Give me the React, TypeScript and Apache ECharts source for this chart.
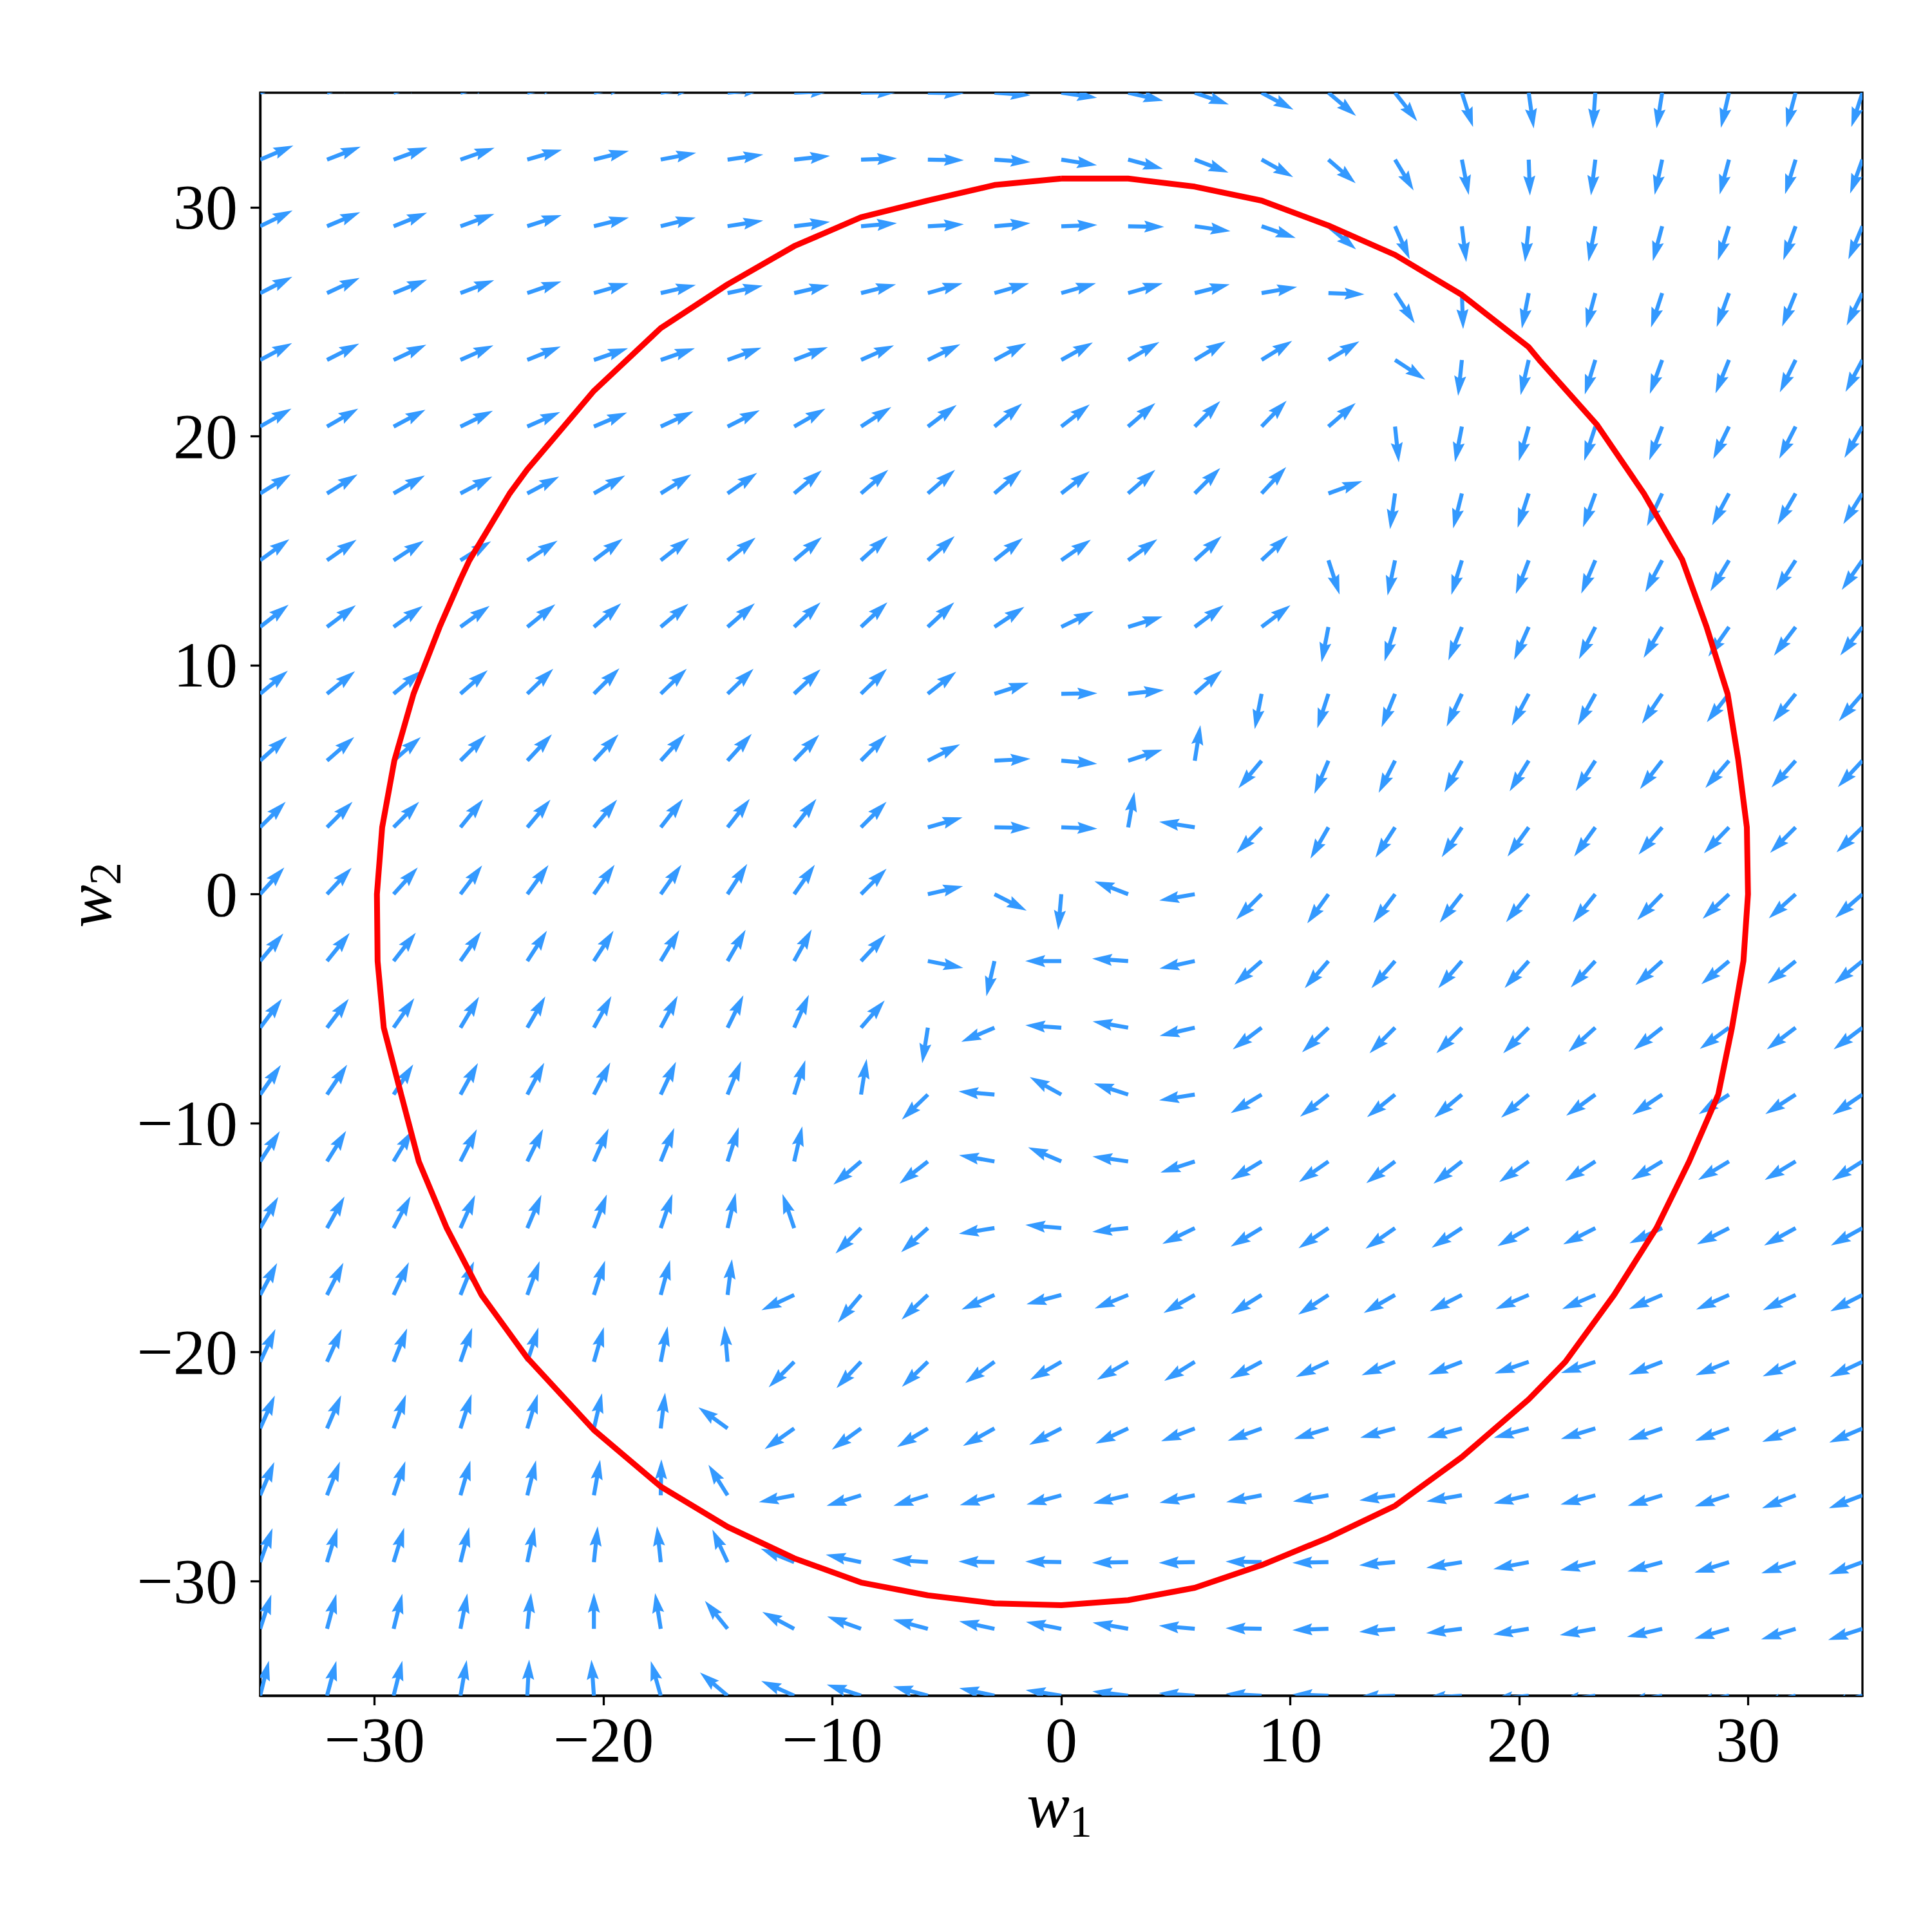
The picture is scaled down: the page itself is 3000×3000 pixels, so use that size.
import React, { useEffect, useRef } from 'react';
import * as echarts from 'echarts';

// grid positions of the quiver (x and y), left->right / bottom->top
const gridCoords = [-35, -32.08, -29.17, -26.25, -23.33, -20.42, -17.5, -14.58, -11.67, -8.75, -5.83, -2.92, 0, 2.92, 5.83, 8.75, 11.67, 14.58, 17.5, 20.42, 23.33, 26.25, 29.17, 32.08, 35];

const tickValues = [-30, -20, -10, 0, 10, 20, 30];

// arrow directions in degrees (counter-clockwise from +w1), one row per grid row, top row (w2 = 35) first
const arrowAngles = [
  [21, 19, 18, 16, 14, 12, 9, 6, 3, 1, -1, -4, -8, -13, -19, -28, -40, -52, -72, -82, -94, -99, -103, -105, -108],
  [23, 21, 20, 19, 16, 14, 11, 8, 6, 2, -1, -4, -9, -15, -21, -29, -41, -59, -79, -88, -97, -102, -105, -107, -110],
  [26, 23, 22, 20, 18, 14, 14, 9, 7, 5, 3, 5, 2, -1, -8, -19, -40, -66, -83, -96, -101, -105, -108, -110, -113],
  [27, 25, 22, 21, 19, 16, 13, 12, 13, 14, 16, 16, 16, 16, 14, 10, -2, -57, -88, -101, -105, -108, -110, -112, -116],
  [28, 27, 25, 24, 22, 19, 19, 20, 21, 24, 26, 28, 29, 30, 31, 32, 31, -33, -96, -103, -107, -110, -112, -116, -118],
  [30, 30, 28, 26, 24, 23, 25, 27, 30, 33, 37, 40, 38, 41, 45, 46, 41, -84, -101, -106, -108, -111, -116, -117, -120],
  [32, 32, 30, 28, 28, 30, 32, 35, 40, 41, 41, 41, 38, 41, 45, 47, 20, -98, -104, -108, -110, -115, -118, -120, -122],
  [36, 35, 33, 32, 33, 37, 38, 39, 40, 42, 42, 38, 35, 36, 42, 43, -72, -102, -107, -111, -113, -118, -121, -123, -125],
  [38, 37, 36, 36, 39, 41, 40, 41, 43, 43, 43, 34, 26, 17, 37, 37, -101, -107, -112, -114, -117, -121, -125, -127, -128],
  [40, 39, 40, 41, 44, 45, 44, 44, 43, 44, 38, 18, 1, 6, 41, -101, -108, -112, -115, -118, -119, -124, -128, -129, -131],
  [42, 41, 41, 45, 47, 47, 48, 48, 46, 45, 27, 3, -5, 18, 81, -130, -113, -117, -119, -122, -123, -128, -131, -132, -133],
  [45, 45, 45, 51, 50, 50, 52, 52, 52, 45, 16, -1, -2, 80, 171, -134, -120, -123, -124, -126, -126, -131, -134, -135, -136],
  [48, 47, 48, 53, 54, 55, 55, 57, 55, 45, 13, -27, -95, 159, -170, -135, -126, -127, -128, -129, -129, -134, -137, -138, -139],
  [50, 51, 52, 55, 57, 57, 59, 60, 61, 47, -11, -103, 180, 176, -168, -139, -131, -131, -131, -132, -133, -138, -140, -141, -141],
  [53, 53, 55, 59, 60, 61, 62, 64, 66, 49, -99, -157, 176, 170, -167, -143, -137, -135, -135, -135, -138, -142, -144, -143, -143],
  [55, 56, 57, 61, 62, 63, 65, 68, 72, 81, -136, 175, 151, 162, -171, -149, -142, -141, -140, -140, -144, -146, -147, -147, -146],
  [57, 58, 59, 63, 64, 66, 68, 72, 77, -140, -142, 170, 157, 172, -162, -149, -145, -143, -142, -145, -147, -149, -149, -149, -148],
  [60, 61, 62, 66, 67, 69, 71, 77, 109, -135, -138, -171, 175, -174, -154, -149, -146, -145, -147, -150, -153, -155, -153, -151, -151],
  [62, 63, 65, 68, 70, 72, 75, 83, -155, -130, -137, -156, -165, -158, -150, -148, -147, -150, -153, -157, -157, -157, -156, -155, -153],
  [65, 66, 68, 71, 72, 74, 79, 95, -135, -133, -136, -144, -150, -150, -148, -152, -155, -158, -159, -161, -162, -159, -158, -156, -155],
  [66, 67, 70, 72, 73, 77, 83, 144, -145, -144, -149, -151, -153, -155, -159, -160, -163, -165, -165, -165, -163, -161, -160, -158, -157],
  [67, 69, 71, 74, 76, 80, 89, 122, -169, -163, -163, -164, -165, -167, -168, -169, -170, -172, -170, -167, -165, -163, -162, -159, -159],
  [70, 73, 73, 76, 78, 84, 96, 115, 158, 168, 176, 179, 179, -179, -179, 179, -179, -175, -171, -169, -167, -165, -163, -162, -160],
  [72, 75, 76, 79, 84, 90, 99, 129, 152, 160, 165, 168, 169, 170, 175, 179, -178, -175, -173, -171, -170, -167, -164, -163, -162],
  [76, 75, 76, 80, 87, 94, 106, 140, 156, 162, 165, 168, 171, 173, 176, 177, 178, -178, -176, -174, -172, -170, -168, -166, -165],
];

// red closed curve vertices
const circleX = [0, 2.92, 5.83, 8.75, 11.67, 14.58, 17.5, 20.42, 20.88, 23.4, 25.45, 27.13, 28.19, 29.11, 29.57, 29.95, 30.0, 29.8, 29.3, 28.7, 27.43, 26.0, 24.15, 22.02, 20.42, 17.5, 14.58, 11.67, 8.75, 5.83, 2.92, 0, -2.92, -5.83, -8.75, -11.67, -14.58, -17.5, -20.42, -23.33, -25.33, -26.85, -28.07, -28.84, -29.6, -29.87, -29.9, -29.67, -29.14, -28.3, -27.16, -26.25, -25.86, -24.1, -23.33, -21.74, -20.42, -17.5, -14.58, -11.67, -8.75, -5.83, -2.92, 0];
const circleY = [31.25, 31.25, 30.9, 30.29, 29.2, 27.92, 26.17, 23.89, 23.33, 20.5, 17.5, 14.6, 11.67, 8.75, 5.9, 2.92, 0, -2.92, -5.83, -8.75, -11.67, -14.58, -17.5, -20.42, -22.06, -24.58, -26.71, -28.1, -29.3, -30.29, -30.83, -31.05, -30.97, -30.62, -30.06, -29.0, -27.63, -25.87, -23.4, -20.25, -17.5, -14.58, -11.67, -8.75, -5.83, -2.92, 0, 2.92, 5.83, 8.75, 11.67, 13.75, 14.58, 17.5, 18.55, 20.42, 21.98, 24.72, 26.63, 28.3, 29.56, 30.29, 30.97, 31.25];

const ARROW_COLOR = '#3399ff';
const ARROW_LEN = 56;
const SHAFT_W = 6.2;
const FONT = "'Liberation Serif', 'Times New Roman', serif";

export default function App() {
  const ref = useRef<HTMLDivElement>(null);
  useEffect(() => {
    const chart = echarts.init(ref.current!, null, { renderer: 'svg', width: 3000, height: 3000 });
    const arrowData: number[][] = [];
    for (let j = 0; j < arrowAngles.length; j++) {
      for (let i = 0; i < gridCoords.length; i++) {
        arrowData.push([gridCoords[i], gridCoords[gridCoords.length - 1 - j], arrowAngles[j][i]]);
      }
    }
    const circleData = circleX.map((x, k) => [x, circleY[k]]);
    const fmt = (v: number) => (v < 0 ? '\u2212' + Math.abs(v) : String(v));

    const renderArrow = (params: any, api: any) => {
      const p = api.coord([api.value(0), api.value(1)]);
      const a = (api.value(2) * Math.PI) / 180;
      const ux = Math.cos(a);
      const uy = -Math.sin(a);
      const px = -uy;
      const py = ux;
      const w = SHAFT_W;
      const L = ARROW_LEN;
      const local = [
        [0, -w / 2],
        [L - 4.5 * w, -w / 2],
        [L - 5 * w, -1.5 * w],
        [L, 0],
        [L - 5 * w, 1.5 * w],
        [L - 4.5 * w, w / 2],
        [0, w / 2],
      ];
      const points = local.map(([lx, ly]) => [p[0] + lx * ux + ly * px, p[1] + lx * uy + ly * py]);
      return { type: 'polygon', shape: { points }, style: { fill: ARROW_COLOR } };
    };

    const axisCommon = {
      type: 'value',
      min: -35,
      max: 35,
      axisLine: { show: true, onZero: false, lineStyle: { color: '#000', width: 3.3 } },
      axisTick: { show: true, inside: false, length: 15, lineStyle: { color: '#000', width: 3.3 }, customValues: tickValues },
      splitLine: { show: false },
    };

    const richTitle = (sub: string) => ({
      text: '{i|w}{s|' + sub + '}',
      fill: '#000',
      align: 'center',
      verticalAlign: 'middle',
      rich: {
        i: { fontFamily: FONT, fontStyle: 'italic', fontSize: 100, lineHeight: 100, verticalAlign: 'top', fill: '#000' },
        s: { fontFamily: FONT, fontSize: 70, lineHeight: 150, verticalAlign: 'middle', fill: '#000' },
      },
    });

    chart.setOption({
      animation: false,
      backgroundColor: '#ffffff',
      grid: {
        left: 404,
        top: 144,
        width: 2488,
        height: 2489,
        show: true,
        borderColor: '#000',
        borderWidth: 3.3,
        backgroundColor: 'transparent',
        containLabel: false,
        outerBoundsMode: 'none',
      },
      xAxis: {
        ...axisCommon,
        position: 'bottom',
        axisLabel: { customValues: tickValues, formatter: fmt, margin: 18, color: '#000', fontSize: 100, fontFamily: FONT },
      },
      yAxis: {
        ...axisCommon,
        position: 'left',
        axisLabel: { customValues: tickValues, formatter: fmt, margin: 35, color: '#000', fontSize: 100, fontFamily: FONT },
      },
      graphic: [
        { type: 'text', x: 1645, y: 2828, z: 10, style: richTitle('1') },
        { type: 'text', x: 163, y: 1390, rotation: Math.PI / 2, z: 10, style: richTitle('2') },
      ],
      series: [
        {
          type: 'custom',
          coordinateSystem: 'cartesian2d',
          data: arrowData,
          encode: { x: 0, y: 1 },
          renderItem: renderArrow,
          clip: true,
          silent: true,
          z: 2,
        },
        {
          type: 'line',
          data: circleData,
          symbol: 'none',
          showSymbol: false,
          smooth: false,
          clip: true,
          silent: true,
          lineStyle: { color: '#ff0000', width: 9 },
          z: 3,
        },
      ],
    });
    return () => chart.dispose();
  }, []);
  return <div ref={ref} style={{ position: 'absolute', left: 0, top: 0, width: 3000, height: 3000, background: '#fff' }} />;
}
